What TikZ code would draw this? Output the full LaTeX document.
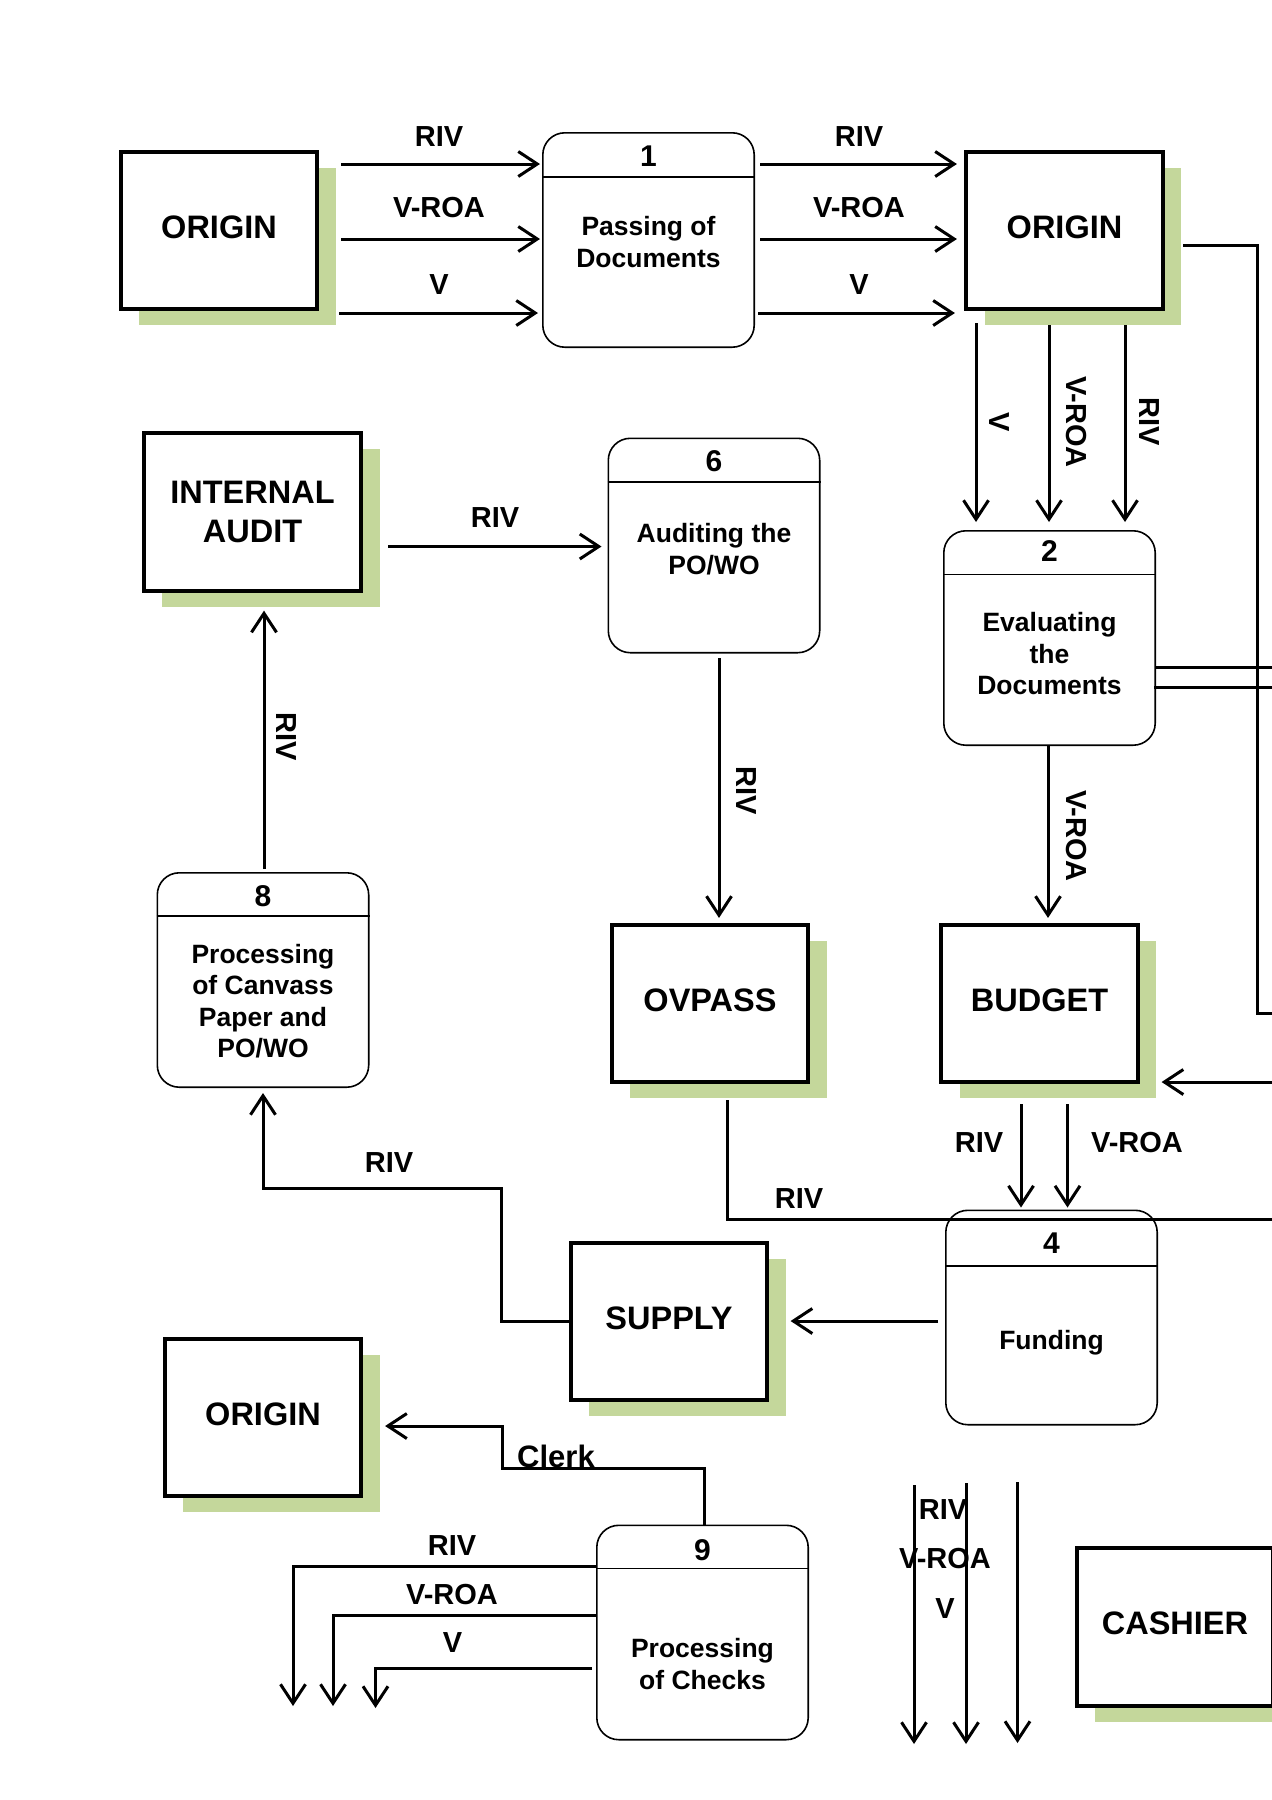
\documentclass[tikz,border=0pt]{standalone}
\usepackage{fontspec}
\setmainfont{Liberation Sans}
\usetikzlibrary{arrows.meta,shadows,calc}
\definecolor{shadegreen}{RGB}{196,215,155}
\begin{document}
\begin{tikzpicture}[x=1pt,y=-1pt,
  ent/.style={draw, line width=3.7pt, fill=white, minimum width=196.5pt, minimum height=157.5pt,
    inner sep=0pt, align=center, text depth=7pt, font=\fontsize{32.5}{39}\selectfont\bfseries,
    drop shadow={shadow xshift=18.5pt, shadow yshift=-16pt, fill=shadegreen, opacity=1}},
  proc/.style={draw, line width=1.6pt, rounded corners=22pt, fill=white,
    minimum width=211.4pt, minimum height=214.4pt, inner sep=0pt},
  divider/.style={line width=1.5pt},
  num/.style={inner sep=0pt, font=\fontsize{30}{36}\selectfont\bfseries},
  ptext/.style={inner sep=0pt, align=center, font=\fontsize{26.5}{31.5}\selectfont\bfseries},
  lab/.style={inner sep=0pt, font=\fontsize{29}{34}\selectfont\bfseries},
  flow/.style={line width=3pt, -{Straight Barb[length=19pt,width=25pt]}},
  wire/.style={line width=3pt},
]
\useasboundingbox (0,0) rectangle (1272,1800);
\fill[white] (0,0) rectangle (1272,1800);

% ---------- external entities ----------
\node[ent] (o1) at (219,230.5) {ORIGIN};
\node[ent] (o2) at (1064.5,230.5) {ORIGIN};
\node[ent, minimum width=217.5pt, text depth=0pt] (ia) at (252.5,512) {INTERNAL\\AUDIT};
\node[ent] (ov) at (710,1003.5) {OVPASS};
\node[ent] (bu) at (1039.5,1003.5) {BUDGET};
\node[ent] (su) at (669,1321.5) {SUPPLY};
\node[ent] (o3) at (263,1417.5) {ORIGIN};
\node[ent] (ca) at (1175,1627) {CASHIER};

% ---------- processes ----------
\node[proc] (p1) at (648.5,240) {};
\draw[divider] ($(p1.north west)+(0,45)$) -- ($(p1.north east)+(0,45)$);
\node[num] (p1n) at (648.5,156) {1};
\node[ptext] (p1t) at (648.5,242) {Passing of\\Documents};

\node[proc] (p2) at (1049.5,638) {};
\draw[divider] ($(p2.north west)+(0,44.5)$) -- ($(p2.north east)+(0,44.5)$);
\node[num] (p2n) at (1049.5,551) {2};
\node[ptext] (p2t) at (1049.5,654) {Evaluating\\the\\Documents};

\node[proc] (p6) at (714,545.5) {};
\draw[divider] ($(p6.north west)+(0,44.5)$) -- ($(p6.north east)+(0,44.5)$);
\node[num] (p6n) at (714,461) {6};
\node[ptext] (p6t) at (714,549) {Auditing the\\PO/WO};

\node[proc] (p8) at (263,980) {};
\draw[divider] ($(p8.north west)+(0,44)$) -- ($(p8.north east)+(0,44)$);
\node[num] (p8n) at (263,896) {8};
\node[ptext] (p8t) at (263,1001) {Processing\\of Canvass\\Paper and\\PO/WO};

\node[proc] (p4) at (1051.5,1317.5) {};
\draw[divider] ($(p4.north west)+(0,56.5)$) -- ($(p4.north east)+(0,56.5)$);
\node[num] (p4n) at (1051.5,1243) {4};
\node[ptext] (p4t) at (1051.5,1343) {Funding};

\node[proc] (p9) at (702.5,1632.5) {};
\draw[divider] ($(p9.north west)+(0,44)$) -- ($(p9.north east)+(0,44)$);
\node[num] (p9n) at (702.5,1550) {9};
\node[ptext] (p9t) at (702.5,1664) {Processing\\of Checks};

% ---------- free ends ----------
\coordinate (offD) at (1290,1013);
\coordinate (offE1) at (1290,667);
\coordinate (offE2) at (1290,687.5);
\coordinate (offG) at (1290,1082);
\coordinate (offI) at (1290,1219);
\coordinate (e1) at (293,1706);
\coordinate (e2) at (333,1706);
\coordinate (e3) at (375.5,1708);
\coordinate (q1s) at (914,1485);
\coordinate (q1e) at (914,1744);
\coordinate (q2s) at (966,1483);
\coordinate (q2e) at (966,1744);
\coordinate (q3s) at (1017.5,1482);
\coordinate (q3e) at (1017.5,1743);

% ---------- connectors ----------
\draw[flow] ($(o1.east)+(22,-66.5)$) -- ($(p1.west)+(-2,-76)$);
\draw[flow] ($(o1.east)+(22,8.5)$) -- ($(p1.west)+(-2,-1)$);
\draw[flow] ($(o1.east)+(20,82.5)$) -- ($(p1.west)+(-4,73)$);

\draw[flow] ($(p1.east)+(5,-76)$) -- ($(o2.west)+(-7.5,-66.5)$);
\draw[flow] ($(p1.east)+(5,-1)$) -- ($(o2.west)+(-7.5,8.5)$);
\draw[flow] ($(p1.east)+(3,73)$) -- ($(o2.west)+(-9.5,82.5)$);

\draw[flow] ($(o2.south)+(-88.5,12)$) -- ($(p2.north)+(-73.5,-8)$);
\draw[flow] ($(o2.south)+(-15.5,14)$) -- ($(p2.north)+(-0.5,-8)$);
\draw[flow] ($(o2.south)+(60.5,14)$) -- ($(p2.north)+(75.5,-8)$);

\draw[wire] ($(o2.east)+(18.5,14.5)$) -- ++(74,0) |- (offD);
\draw[wire] ($(p2.east)+(0,29)$) -- (offE1);
\draw[wire] ($(p2.east)+(-2,49.5)$) -- (offE2);

\draw[flow] ($(p2.south)+(-1.5,0)$) -- ($(bu.north)+(8.5,-5)$);
\draw[flow] (offG) -- ($(bu.east)+(22,78.5)$);

\draw[flow] ($(bu.south)+(-18.5,20)$) -- ($(p4.north)+(-30.5,-2)$);
\draw[flow] ($(bu.south)+(28,20)$) -- ($(p4.north)+(16,-2)$);

\draw[wire] ($(ov.south)+(17.5,16)$) |- (offI);

\draw[flow] ($(ia.east)+(25,34.5)$) -- ($(p6.west)+(-6,1)$);
\draw[flow] ($(p6.south)+(5,4.5)$) -- ($(ov.north)+(9,-5)$);
\draw[flow] ($(p8.north)+(1,-3)$) -- ($(ia.south)+(11.5,18)$);

\draw[flow] ($(p4.west)+(-7,3.5)$) -- ($(su.east)+(21.5,-0.5)$);
\draw[flow] (su.west) -- ++(-67,0) -- ++(0,-133) -| ($(p8.south)+(0,5)$);
\draw[flow] ($(p9.north)+(2,0)$) -- ++(0,-56) -- ++(-202.5,0) |- ($(o3.east)+(22,8.5)$);

\draw[flow] ($(p9.west)+(0,-66)$) -| (e1);
\draw[flow] ($(p9.west)+(0,-17)$) -| (e2);
\draw[flow] ($(p9.west)+(-4,35.5)$) -| (e3);

\draw[flow] (q1s) -- (q1e);
\draw[flow] (q2s) -- (q2e);
\draw[flow] (q3s) -- (q3e);

% ---------- labels ----------
\node[lab] (l1) at (439,137) {RIV};
\node[lab] (l2) at (439,208) {V-ROA};
\node[lab] (l3) at (439,285) {V};
\node[lab] (l4) at (859,137) {RIV};
\node[lab] (l5) at (859,208) {V-ROA};
\node[lab] (l6) at (859,285) {V};
\node[lab, rotate=-90] (l7) at (999,422) {V};
\node[lab, rotate=-90] (l8) at (1076.5,422) {V-ROA};
\node[lab, rotate=-90] (l9) at (1149,422) {RIV};
\node[lab, rotate=-90] (l10) at (1076.5,836) {V-ROA};
\node[lab] (l11) at (979,1143) {RIV};
\node[lab] (l12) at (1137,1143) {V-ROA};
\node[lab] (l13) at (799,1199) {RIV};
\node[lab] (l14) at (495,518) {RIV};
\node[lab, rotate=-90] (l15) at (746,791) {RIV};
\node[lab, rotate=-90] (l16) at (286.5,736.5) {RIV};
\node[lab] (l17) at (389,1163) {RIV};
\node[lab, font=\fontsize{31}{36}\selectfont\bfseries] (l18) at (556,1456) {Clerk};
\node[lab] (l19) at (452,1546) {RIV};
\node[lab] (l20) at (452,1594) {V-ROA};
\node[lab] (l21) at (452.5,1643) {V};
\node[lab] (l22) at (943,1510) {RIV};
\node[lab] (l23) at (945,1558) {V-ROA};
\node[lab] (l24) at (945,1609) {V};
\end{tikzpicture}
\end{document}
